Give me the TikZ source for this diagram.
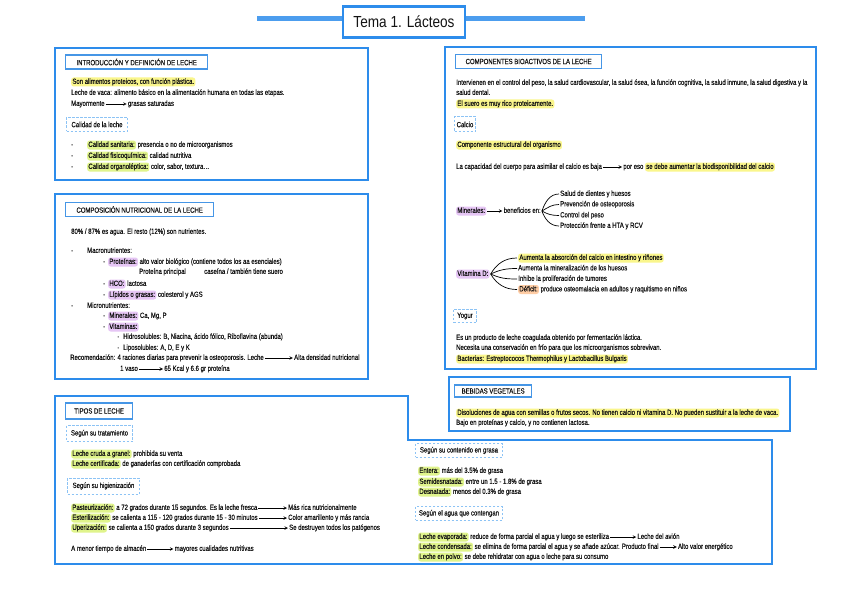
\documentclass[tikz,border=0pt]{standalone}
\usepackage{fontspec}
\setmainfont{Liberation Sans}[FakeStretch=0.8, FakeBold=0.3]
\newfontfamily\titulofont{Liberation Sans}[FakeStretch=0.85]
\usetikzlibrary{arrows, positioning}

\definecolor{azul}{RGB}{45,140,235}
\definecolor{azulcab}{RGB}{70,150,230}
\definecolor{azulclaro}{RGB}{140,195,245}
\definecolor{amarillo}{RGB}{250,246,140}
\definecolor{verdeamar}{RGB}{224,244,140}
\definecolor{lila}{RGB}{230,198,245}
\definecolor{naranja}{RGB}{255,205,165}
\definecolor{tinta}{RGB}{20,20,20}

% resaltado tipo rotulador
\newcommand{\marca}[2]{\tikz[baseline=(m.base)]\node (m) [fill=#1, rounded corners=2.5pt, anchor=base, inner xsep=1.2pt, inner ysep=1pt, text height=5.4pt, text depth=1.6pt] {#2};}
\newcommand{\guion}[1][16pt]{\makebox[#1][l]{-}}

\begin{document}
\begin{tikzpicture}[x=1pt, y=1pt, node distance=20pt, >=stealth, font=\fontsize{7.5}{8.5}\selectfont, text=tinta]

% Estilos
\tikzstyle{marco} = [draw=azul, line width=2.6pt]
\tikzstyle{barra} = [draw=azul!85, line width=5pt]
\tikzstyle{cabecera} = [draw=azulcab, line width=1.3pt, anchor=west, minimum height=14pt, inner xsep=4pt]
\tikzstyle{apartado} = [draw=azulclaro, dashed, dash pattern=on 2.5pt off 1.5pt, line width=1pt, anchor=west, minimum height=14pt, inner xsep=2pt]
\tikzstyle{texto} = [anchor=west, inner sep=1pt, text height=5.4pt, text depth=1.6pt]
\tikzstyle{flecha} = [->, line width=0.6pt]
\tikzstyle{rama} = [line width=0.7pt]

\fill[white] (0,0) rectangle (848,-599);
\useasboundingbox (0,0) rectangle (848,-599);

% Titulo
\node (titulo) at (404,-22) [draw=azul, line width=2.2pt, fill=white, minimum width=122pt, minimum height=31pt, font=\titulofont\fontsize{16}{18}\selectfont] {Tema 1. Lácteos};
\coordinate (barraIzq) at (257,-19);
\coordinate (barraDer) at (585,-19);
\draw[barra] (barraIzq) -- (barraIzq -| titulo.west);
\draw[barra] (barraDer -| titulo.east) -- (barraDer);

% Introduccion
\draw[marco] (55,-48) rectangle (368,-180);
\node (cabIntro) at (65,-62) [cabecera, minimum width=142pt] {INTRODUCCIÓN Y DEFINICIÓN DE LECHE};
\node (proteicos) at (70,-82) [texto] {\marca{amarillo}{Son alimentos proteicos, con función plástica.}};
\node (vaca) at (70,-93) [texto] {Leche de vaca: alimento básico en la alimentación humana en todas las etapas.};
\node (mayor) at (70,-104) [texto] {Mayormente};
\node (grasas) [texto, right=21pt of mayor] {grasas saturadas};
\node (calidad) at (66,-124.5) [apartado, minimum width=61pt] {Calidad de la leche};
\node (sanitaria) at (70,-145) [texto] {\guion\marca{verdeamar}{Calidad sanitaria:} presencia o no de microorganismos};
\node (fisico) at (70,-156) [texto] {\guion\marca{verdeamar}{Calidad fisicoquímica:} calidad nutritiva};
\node (organo) at (70,-167) [texto] {\guion\marca{verdeamar}{Calidad organoléptica:} color, sabor, textura\dots};

% Composicion nutricional
\draw[marco] (55,-194) rectangle (368,-379);
\node (cabCompo) at (65,-209.5) [cabecera, minimum width=148pt] {COMPOSICIÓN NUTRICIONAL DE LA LECHE};
\node (agua) at (70,-232) [texto] {80\% / 87\% es agua. El resto (12\%) son nutrientes.};
\node (macro) at (70,-251) [texto] {\guion Macronutrientes:};
\node (prot) at (102,-262) [texto] {\guion[5pt]\marca{lila}{Proteínas:} alto valor biológico (contiene todos los aa esenciales)};
\node (protPrin) at (138,-272) [texto] {Proteína principal};
\node (caseina) at (203,-272) [texto] {caseína / también tiene suero};
\node (hco) at (102,-284) [texto] {\guion[5pt]\marca{lila}{HCO:} lactosa};
\node (lipidos) at (102,-295) [texto] {\guion[5pt]\marca{lila}{Lípidos o grasas:} colesterol y AGS};
\node (micro) at (70,-306) [texto] {\guion Micronutrientes:};
\node (minerales) at (102,-316) [texto] {\guion[5pt]\marca{lila}{Minerales:} Ca, Mg, P};
\node (vitaminas) at (102,-327) [texto] {\guion[5pt]\marca{lila}{Vitaminas:}};
\node (hidro) at (116,-337) [texto] {\makebox[6pt][l]{·}Hidrosolubles: B, Niacina, ácido fólico, Riboflavina (abunda)};
\node (lipo) at (116,-348) [texto] {\makebox[6pt][l]{·}Liposolubles: A, D, E y K};
\node (recom) at (69,-358) [texto] {Recomendación: 4 raciones diarias para prevenir la osteoporosis. Leche};
\node (densidad) [texto, right=28pt of recom] {Alta densidad nutricional};
\node (vaso) at (119,-369) [texto] {1 vaso};
\node (kcal) [texto, right=24pt of vaso] {65 Kcal y 6.6 gr proteína};

% Tipos de leche
\draw[marco] (55,-396) -- (408,-396) -- (408,-440) -- (772,-440) -- (772,-564) -- (55,-564) -- cycle;
\node (cabTipos) at (65,-411) [cabecera, minimum width=67pt, minimum height=16pt] {TIPOS DE LECHE};
\node (tratam) at (66,-433.5) [apartado, minimum width=66pt, minimum height=16pt] {Según su tratamiento};
\node (cruda) at (70,-454) [texto] {\marca{verdeamar}{Leche cruda a granel:} prohibida su venta};
\node (certif) at (70,-464) [texto] {\marca{verdeamar}{Leche certificada:} de ganaderías con certificación comprobada};
\node (higien) at (67,-486) [apartado, minimum width=72pt, minimum height=16pt] {Según su higienización};
\node (pasteur) at (70,-508) [texto] {\marca{verdeamar}{Pasteurización:} a 72 grados durante 15 segundos. Es la leche fresca};
\node (masRica) at (287,-508) [texto] {Más rica nutricionalmente};
\node (esteril) at (70,-518) [texto] {\marca{verdeamar}{Esterilización:} se calienta a 115 - 120 grados durante 15 - 30 minutos};
\node (color) at (287,-518) [texto] {Color amarillento y más rancia};
\node (uper) at (70,-528) [texto] {\marca{verdeamar}{Uperización:} se calienta a 150 grados durante 3 segundos};
\node (patog) at (288,-528) [texto] {Se destruyen todos los patógenos};
\node (almacen) at (70,-549) [texto] {A menor tiempo de almacén};
\node (cualid) [texto, right=26pt of almacen] {mayores cualidades nutritivas};

\node (grasa) at (415,-450.5) [apartado, minimum width=87pt, minimum height=12pt] {Según su contenido en grasa};
\node (entera) at (417,-471) [texto] {\marca{verdeamar}{Entera:} más del 3.5\% de grasa};
\node (semi) at (417,-482) [texto] {\marca{verdeamar}{Semidesnatada:} entre un 1.5 - 1.8\% de grasa};
\node (desna) at (417,-492) [texto] {\marca{verdeamar}{Desnatada:} menos del 0.3\% de grasa};
\node (aguaCont) at (415,-513.5) [apartado, minimum width=87pt, minimum height=13pt] {Según el agua que contengan};
\node (evap) at (417,-537) [texto] {\marca{verdeamar}{Leche evaporada:} reduce de forma parcial el agua y luego se esteriliza};
\node (avion) [texto, right=26pt of evap] {Leche del avión};
\node (conden) at (417,-547) [texto] {\marca{verdeamar}{Leche condensada:} se elimina de forma parcial el agua y se añade azúcar. Producto final};
\node (energ) [texto, right=17pt of conden] {Alto valor energético};
\node (polvo) at (417,-557) [texto] {\marca{verdeamar}{Leche en polvo:} se debe rehidratar con agua o leche para su consumo};

% Componentes bioactivos
\draw[marco] (445,-47) rectangle (816,-369);
\node (cabBio) at (455,-61.5) [cabecera, minimum width=146pt] {COMPONENTES BIOACTIVOS DE LA LECHE};
\node (interv) at (455,-83) [texto] {Intervienen en el control del peso, la salud cardiovascular, la salud ósea, la función cognitiva, la salud inmune, la salud digestiva y la};
\node (dental) at (455,-93) [texto] {salud dental.};
\node (suero) at (455,-104) [texto] {\marca{amarillo}{El suero es muy rico proteicamente.}};
\node (calcio) at (454,-124.5) [apartado, minimum width=21pt, minimum height=15pt, inner xsep=1pt] {Calcio};
\node (estruct) at (455,-145) [texto] {\marca{amarillo}{Componente estructural del organismo}};
\node (capac) at (455,-167) [texto] {La capacidad del cuerpo para asimilar el calcio es baja};
\node (poreso) [texto, right=19pt of capac] {por eso \marca{amarillo}{se debe aumentar la biodisponibilidad del calcio}};
\node (mineralesB) at (455,-211) [texto] {\marca{lila}{Minerales:}};
\node (benef) [texto, right=15pt of mineralesB] {beneficios en:};
\node (dientes) at (559,-194) [texto] {Salud de dientes y huesos};
\node (osteo) at (559,-204.5) [texto] {Prevención de osteoporosis};
\node (peso) at (559,-215.5) [texto] {Control del peso};
\node (hta) at (559,-226) [texto] {Protección frente a HTA y RCV};
\node (vitD) at (455,-274) [texto] {\marca{lila}{Vitamina D:}};
\node (absor) at (517,-258) [texto] {\marca{amarillo}{Aumenta la absorción del calcio en intestino y riñones}};
\node (mineral) at (517,-268.5) [texto] {Aumenta la mineralización de los huesos};
\node (tumor) at (517,-279) [texto] {Inhibe la proliferación de tumores};
\node (deficit) at (517,-289.5) [texto] {\marca{naranja}{Déficit:} produce osteomalacia en adultos y raquitismo en niños};
\node (yogur) at (453,-316) [apartado, minimum width=23pt, minimum height=12pt, inner xsep=1pt] {Yogur};
\node (producto) at (455,-338) [texto] {Es un producto de leche coagulada obtenido por fermentación láctica.};
\node (frio) at (455,-348) [texto] {Necesita una conservación en frío para que los microorganismos sobrevivan.};
\node (bacter) at (455,-359) [texto] {\marca{amarillo}{Bacterias: Estreptococos Thermophilus y Lactobacillus Bulgaris}};

% Bebidas vegetales
\draw[marco] (449,-377) rectangle (790,-431);
\node (cabBeb) at (454,-391) [cabecera, minimum width=77pt, minimum height=12pt] {BEBIDAS VEGETALES};
\node (disol) at (455,-413) [texto] {\marca{amarillo}{Disoluciones de agua con semillas o frutos secos. No tienen calcio ni vitamina D. No pueden sustituir a la leche de vaca.}};
\node (bajo) at (455,-423) [texto] {Bajo en proteínas y calcio, y no contienen lactosa.};

% Flechas
\draw[flecha] (mayor) -- (grasas);
\draw[flecha] (recom) -- (densidad);
\draw[flecha] (vaso) -- (kcal);
\draw[flecha] (pasteur) -- (masRica);
\draw[flecha] (esteril) -- (color);
\draw[flecha] (uper) -- (patog);
\draw[flecha] (almacen) -- (cualid);
\draw[flecha] (evap) -- (avion);
\draw[flecha] (conden) -- (energ);
\draw[flecha] (capac) -- (poreso);
\draw[flecha] (mineralesB) -- (benef);

% Ramas
\draw[rama] (benef.east) to[out=70, in=180] (dientes.west);
\draw[rama] (benef.east) to[out=30, in=180] (osteo.west);
\draw[rama] (benef.east) to[out=-30, in=180] (peso.west);
\draw[rama] (benef.east) to[out=-70, in=180] (hta.west);
\draw[rama] (vitD.east) to[out=60, in=180] (absor.west);
\draw[rama] (vitD.east) to[out=25, in=180] (mineral.west);
\draw[rama] (vitD.east) to[out=-25, in=180] (tumor.west);
\draw[rama] (vitD.east) to[out=-60, in=180] (deficit.west);

\end{tikzpicture}
\end{document}
